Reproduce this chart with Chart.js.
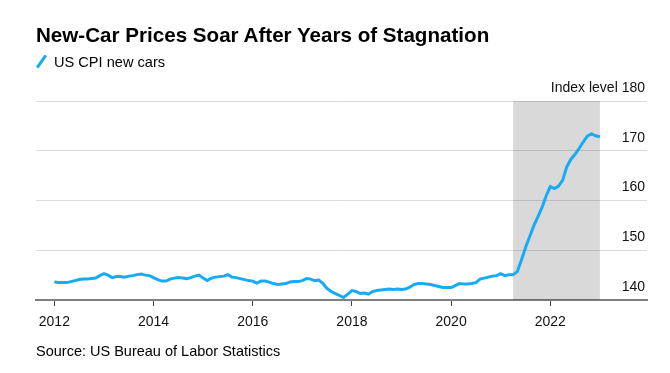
<!DOCTYPE html>
<html>
<head>
<meta charset="utf-8">
<script src="https://cdn.jsdelivr.net/npm/chart.js@4"></script>
<style>
  body { margin: 0; width: 670px; height: 373px; position: relative; background: #fff; overflow: hidden;
         font-family: "Liberation Sans", Arial, sans-serif; color: #000; }
  #chart { position: absolute; left: 0; top: 0; }
  .title { position: absolute; left: 36px; top: 23px; font-size: 20.6px; font-weight: bold; }
  .legend { position: absolute; left: 36px; top: 54px; font-size: 14.6px; }
  .legend .swatch { display: inline-block; width: 3px; height: 15px; background: #17aaf7; transform: rotate(35deg);
                    vertical-align: -2px; margin: 0 11px 0 4px; }
  .source { position: absolute; left: 36px; top: 343px; font-size: 14.5px; }
</style>
</head>
<body>
<canvas id="chart" width="670" height="373"></canvas>
<div class="title">New-Car Prices Soar After Years of Stagnation</div>
<div class="legend"><span class="swatch"></span>US CPI new cars</div>
<div class="source">Source: US Bureau of Labor Statistics</div>
<script>
const BLUE = "#17aaf7";
const FONT = "'Liberation Sans', Arial, sans-serif";

// monthly index, Jan 2012 .. Jan 2023
const startYear = 2012;
const cpiNewCars = [
  143.6, 143.5, 143.5, 143.5, 143.7, 143.9, 144.1, 144.2, 144.2, 144.3, 144.4, 144.9, // 2012
  145.3, 145.0, 144.5, 144.7, 144.7, 144.6, 144.8, 144.9, 145.1, 145.2, 145.0, 144.9, // 2013
  144.5, 144.1, 143.8, 143.8, 144.2, 144.4, 144.5, 144.4, 144.3, 144.5, 144.8, 145.0, // 2014
  144.4, 143.9, 144.4, 144.6, 144.7, 144.8, 145.1, 144.6, 144.5, 144.3, 144.1, 143.9, // 2015
  143.8, 143.4, 143.8, 143.8, 143.6, 143.3, 143.1, 143.2, 143.3, 143.6, 143.7, 143.7, // 2016
  143.9, 144.3, 144.2, 143.9, 144.0, 143.3, 142.3, 141.7, 141.3, 140.9, 140.5, 141.2, // 2017
  141.9, 141.7, 141.3, 141.4, 141.2, 141.7, 141.9, 142.0, 142.1, 142.2, 142.1, 142.2, // 2018
  142.1, 142.2, 142.6, 143.1, 143.3, 143.3, 143.2, 143.1, 142.9, 142.7, 142.5, 142.5, // 2019
  142.5, 142.9, 143.3, 143.2, 143.2, 143.3, 143.5, 144.2, 144.4, 144.6, 144.8, 144.9, // 2020
  145.3, 144.9, 145.1, 145.1, 145.7, 148.0, 150.5, 152.7, 154.9, 156.7, 158.6, 160.9, // 2021
  162.8, 162.4, 162.9, 164.1, 166.8, 168.3, 169.3, 170.5, 171.8, 173.0, 173.4, 173.0, // 2022
  172.8                                                                                // 2023
];
const yearTicks = [2012, 2014, 2016, 2018, 2020, 2022];
const indexTicks = [140, 150, 160, 170, 180];
const shadedSpan = [2021.25, 2023.0];

const points = cpiNewCars.map((v, i) => ({ x: startYear + i / 12, y: v }));

const shadePlugin = {
  id: "shade",
  beforeDatasetsDraw(chart) {
    const { ctx, chartArea, scales } = chart;
    const x1 = scales.x.getPixelForValue(shadedSpan[0]);
    const x2 = scales.x.getPixelForValue(shadedSpan[1]);
    ctx.save();
    ctx.fillStyle = "rgba(0,0,0,0.15)";
    ctx.fillRect(x1, chartArea.top, x2 - x1, chartArea.bottom - chartArea.top);
    ctx.restore();
  },
};

new Chart(document.getElementById("chart"), {
  type: "line",
  data: { datasets: [{ data: points, borderColor: BLUE, borderWidth: 3, pointRadius: 0, tension: 0, fill: false }] },
  options: {
    responsive: false,
    animation: false,
    layout: { padding: { left: 36, right: 23, top: 101, bottom: 0 } },
    plugins: { legend: { display: false }, tooltip: { enabled: false } },
    scales: {
      x: {
        type: "linear", min: 2011.63, max: 2023.95,
        afterBuildTicks: (s) => { s.ticks = yearTicks.map((v) => ({ value: v })); },
        afterFit: (s) => { s.height = 73; },
        grid: { drawOnChartArea: false, drawTicks: true, tickLength: 6, color: "#444", lineWidth: 1 },
        border: { color: "#7f7f7f", width: 2 },
        ticks: { color: "#111", font: { size: 14, family: FONT }, padding: 8, maxRotation: 0, callback: (v) => String(v) },
      },
      y: {
        position: "right", min: 140, max: 180,
        afterBuildTicks: (s) => { s.ticks = indexTicks.map((v) => ({ value: v })); },
        afterFit: (s) => { s.width = 0; },
        grid: { color: "#dcdcdc", lineWidth: 1, drawTicks: false },
        border: { display: false },
        ticks: { mirror: true, labelOffset: -13, padding: -2, color: "#111", font: { size: 14, family: FONT },
                 callback: (v) => (v === 180 ? "Index level 180" : String(v)) },
      },
    },
  },
  plugins: [shadePlugin],
});
</script>
</body>
</html>
